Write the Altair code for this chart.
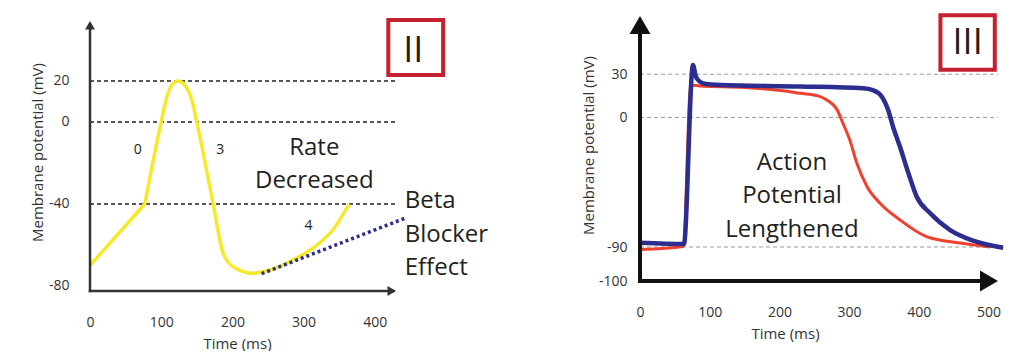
import altair as alt
import pandas as pd

# ---------------- Panel II (left): pacemaker action potential ----------------
ramp_t = [0, 77]
ramp_v = [-70, -40]
yellow_t = [77, 100, 108, 117, 124, 133, 143, 150, 173, 187, 201, 229, 257, 285, 319, 341, 364]
yellow_v = [-40, 0, 12.3, 18.9, 20, 18, 10.7, 0, -40, -64, -70.6, -73.8, -71.7, -67.3, -60, -52.7, -40]
beta_t = [241, 442]
beta_v = [-74, -47]

left_xticks = [0, 100, 200, 300, 400]
left_yticks = [20, 0, -40, -80]
left_dashed = [20, 0, -40]

phase_labels = ["0", "3", "4"]
phase_t = [67, 183, 307]
phase_v = [-13.7, -13.7, -50.7]

rate_lines = ["Rate", "Decreased"]
rate_t = [315, 315]
rate_v = [-16.1, -32.2]

beta_lines = ["Beta", "Blocker", "Effect"]
beta_lbl_t = [442, 442, 442]
beta_lbl_v = [-42, -58.5, -74.6]

box2_t = [419, 496]
box2_v = [22.9, 49.8]
box2_label = "II"
box2_label_t = 454
box2_label_v = 34.6

# ---------------- Panel III (right): ventricular action potential ----------------
red_t = [0, 62, 73, 86, 150, 205, 230, 254, 268, 283, 291, 301, 311, 326, 344, 373, 412, 459, 502]
red_v = [-90.7, -89.6, 22.5, 21.8, 20.8, 18.5, 16.7, 15.1, 12.1, 5.1, -3.9, -15.7, -31.7, -48.3, -59.4, -71.2, -83, -87.2, -90]
blue_t = [0, 63, 76, 80, 86, 93, 115, 230, 320, 334, 347, 356, 363, 373, 385, 397, 416, 445, 478, 521]
blue_v = [-87, -87.9, 36.4, 28.5, 24.8, 23.4, 22.5, 21.5, 20.2, 19, 14.4, 5.1, -6.5, -20.4, -38.6, -55.1, -66.4, -78.2, -85.6, -90.2]

right_xticks = [0, 100, 200, 300, 400, 500]
right_yticks = [30, 0, -90, -100]
right_dashed = [30, 0, -90]

ap_lines = ["Action", "Potential", "Lengthened"]
ap_t = [218, 218, 218]
ap_v = [-36.5, -59.4, -83.1]

box3_t = [431, 509]
box3_v = [33.1, 70.9]
box3_label = "III"
box3_label_t = 470
box3_label_v = 51.7

# ---------------- scales / layout constants ----------------
H = 275
L_W = 306
R_W = 358
LX_DOM = [0, 429.8]
LY_DOM = [-82.44, 51.7]
L_YTIP = 49.3
RX_DOM = [0, 513.6]
RY_DOM = [-102.94, -90, 70.42]
RY_RANGE = [275, 231, 0]
R_YAXIS = -100

FONT = "Open Sans"
INK = "#231f20"
YELLOW = "#f4ea2a"
NAVY = "#2b2e8e"
RED = "#ef4130"
BOXRED = "#c4202f"

UP = "M0,0L-0.58,1L0.58,1Z"
RIGHT = "M0,0L-1,-0.58L-1,0.58Z"

lxs = alt.Scale(domain=LX_DOM, zero=False, nice=False)
lys = alt.Scale(domain=LY_DOM, zero=False, nice=False)
rxs = alt.Scale(domain=RX_DOM, zero=False, nice=False)
rys = alt.Scale(domain=RY_DOM, range=RY_RANGE, zero=False, nice=False)


def xaxis(values, pad, tx, ty):
    return alt.Axis(values=values, domain=False, ticks=False, tickSize=0, grid=False,
                    labelPadding=pad, labelBaseline="middle", labelFlush=False,
                    labelOverlap=False, labelFont=FONT, labelFontSize=14, labelColor="#333",
                    title="Time (ms)", titleX=tx, titleY=ty, titleBaseline="middle",
                    titleAlign="center", titleFont=FONT, titleFontSize=15,
                    titleFontWeight="normal", titleColor="#333")


def yaxis(values, pad, tx, ty):
    return alt.Axis(values=values, domain=False, ticks=False, tickSize=0, grid=False,
                    labelPadding=pad, labelFlush=False, labelOverlap=False,
                    labelExpr="'' + datum.value",
                    labelFont=FONT, labelFontSize=14, labelColor="#333",
                    title="Membrane potential (mV)", titleX=tx, titleY=ty,
                    titleBaseline="middle", titleAlign="center", titleFont=FONT,
                    titleFontSize=15, titleFontWeight="normal", titleColor="#333")


def panel(xs, ys, xdom, xax, yax, width, dashed, dash_color, dash_w,
          curves, texts, box_t, box_v, box_label, blt, blv,
          ytip, xaxis_v, axis_color, axis_w, arrow_size, arrow_len_t, arrow_len_v):
    X = lambda f="t": alt.X(f"{f}:Q", scale=xs, axis=xax)
    Y = lambda f="v": alt.Y(f"{f}:Q", scale=ys, axis=yax)
    layers = []
    dd = pd.DataFrame({"v": dashed, "t": xdom[0], "t1": xdom[1]})
    layers.append(alt.Chart(dd).mark_rule(color=dash_color, strokeDash=[4, 3], strokeWidth=dash_w).encode(
        x=X(), x2="t1:Q", y=Y()))
    for c in curves:
        layers.append(c(X, Y))
    # axes with arrowheads
    ya = pd.DataFrame({"t": [xdom[0]], "v": [xaxis_v], "v2": [ytip - arrow_len_v]})
    layers.append(alt.Chart(ya).mark_rule(color=axis_color, strokeWidth=axis_w, strokeCap="square").encode(
        x=X(), y=Y(), y2="v2:Q"))
    xa = pd.DataFrame({"t": [xdom[0]], "t2": [xdom[1] - arrow_len_t], "v": [xaxis_v]})
    layers.append(alt.Chart(xa).mark_rule(color=axis_color, strokeWidth=axis_w, strokeCap="square").encode(
        x=X(), x2="t2:Q", y=Y()))
    layers.append(alt.Chart(pd.DataFrame({"t": [xdom[0]], "v": [ytip]})).mark_point(
        shape=UP, size=arrow_size, filled=True, opacity=1, color=axis_color, strokeWidth=0).encode(x=X(), y=Y()))
    layers.append(alt.Chart(pd.DataFrame({"t": [xdom[1]], "v": [xaxis_v]})).mark_point(
        shape=RIGHT, size=arrow_size, filled=True, opacity=1, color=axis_color, strokeWidth=0).encode(x=X(), y=Y()))
    for (lbls, ts, vs, size, align) in texts:
        td = pd.DataFrame({"label": lbls, "t": ts, "v": vs})
        layers.append(alt.Chart(td).mark_text(font=FONT, fontSize=size, color=INK, align=align,
                                              baseline="alphabetic" if size > 16 else "middle").encode(
            x=X(), y=Y(), text="label:N"))
    bd = pd.DataFrame({"t": [box_t[0]], "t2": [box_t[1]], "v": [box_v[0]], "v2": [box_v[1]]})
    layers.append(alt.Chart(bd).mark_rect(fillOpacity=0, stroke=BOXRED, strokeWidth=4).encode(
        x=X(), x2="t2:Q", y=Y(), y2="v2:Q"))
    bl = pd.DataFrame({"label": [box_label], "t": [blt], "v": [blv]})
    layers.append(alt.Chart(bl).mark_text(font=FONT, fontSize=36, color=INK, align="center",
                                          baseline="middle").encode(x=X(), y=Y(), text="label:N"))
    return alt.layer(*layers).properties(width=width, height=H)


def left_ramp(X, Y):
    return alt.Chart(pd.DataFrame({"t": ramp_t, "v": ramp_v})).mark_line(
        color=YELLOW, strokeWidth=3.5).encode(x=X(), y=Y())


def left_curves(X, Y):
    return alt.Chart(pd.DataFrame({"t": yellow_t, "v": yellow_v})).mark_line(
        color=YELLOW, strokeWidth=3.5, interpolate="monotone").encode(x=X(), y=Y())


def left_beta(X, Y):
    return alt.Chart(pd.DataFrame({"t": beta_t, "v": beta_v})).mark_line(
        color=NAVY, strokeWidth=3.5, strokeDash=[3, 3]).encode(x=X(), y=Y())


def right_red(X, Y):
    return alt.Chart(pd.DataFrame({"t": red_t, "v": red_v})).mark_line(
        color=RED, strokeWidth=3, interpolate="monotone").encode(x=X(), y=Y())


def right_blue(X, Y):
    return alt.Chart(pd.DataFrame({"t": blue_t, "v": blue_v})).mark_line(
        color=NAVY, strokeWidth=4.5, interpolate="monotone").encode(x=X(), y=Y())


left = panel(lxs, lys, LX_DOM,
             xaxis(left_xticks, 31, 147, 52), yaxis(left_yticks, 21, -53, 136), L_W,
             left_dashed, INK, 1.5, [left_ramp, left_curves, left_beta],
             [(phase_labels, phase_t, phase_v, 14, "center"),
              (rate_lines, rate_t, rate_v, 24, "center"),
              (beta_lines, beta_lbl_t, beta_lbl_v, 24, "left")],
             box2_t, box2_v, box2_label, box2_label_t, box2_label_v,
             L_YTIP, LY_DOM[0], "#333", 2.5, 289, 4, 2)

right = panel(rxs, rys, RX_DOM,
              xaxis(right_xticks, 21, 145, 42), yaxis(right_yticks, 13, -52, 129), R_W,
              right_dashed, "#9a9a9a", 1, [right_red, right_blue],
              [(ap_lines, ap_t, ap_v, 24, "center")],
              box3_t, box3_v, box3_label, box3_label_t, box3_label_v,
              RY_DOM[-1], R_YAXIS, "#111", 4, 1296, 13, 6)

chart = alt.hconcat(left, right, spacing=244, bounds="flush").properties(
    padding={"left": 30, "top": 13, "right": 0, "bottom": 0}
).configure_view(stroke=None)

chart.save("out.html", embed_options={"renderer": "svg", "actions": False})
